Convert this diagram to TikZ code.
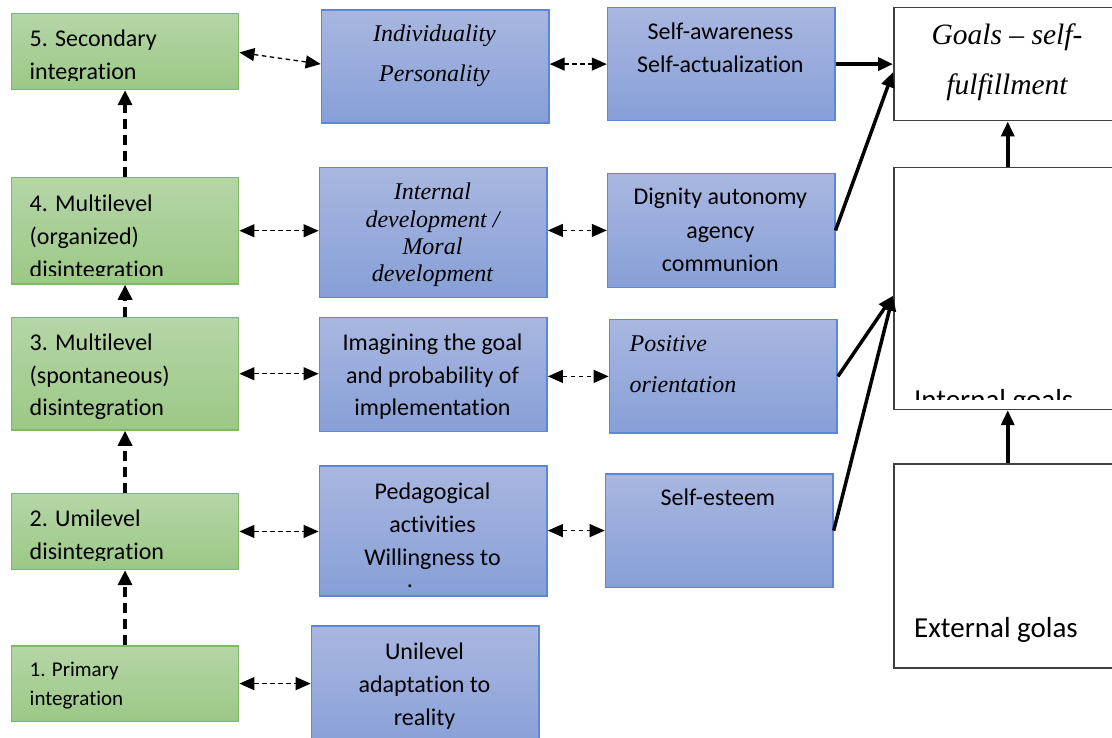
\documentclass[tikz,border=0pt]{standalone}
\usepackage{fontspec}
\setmainfont{Carlito}[Ligatures={NoCommon}]
\newfontfamily\serifit{Liberation Serif}
\usetikzlibrary{arrows.meta}
\definecolor{gtop}{HTML}{B5D6A7}
\definecolor{gbot}{HTML}{9CC886}
\definecolor{gline}{HTML}{80B862}
\definecolor{btop}{HTML}{A9B7E0}
\definecolor{bbot}{HTML}{879FD7}
\definecolor{bline}{HTML}{5C86D8}
\definecolor{rline}{HTML}{404040}
\newcommand\mkbox[6]{\node[#2, minimum width={#5-#3}, minimum height={#6-#4}] (#1) at (#3,#4) {};}
\begin{document}
\begin{tikzpicture}[x=1pt,y=-1pt,
  gbox/.style={draw=gline, line width=1.5pt, top color=gtop, bottom color=gbot, inner sep=0pt, anchor=north west},
  bbox/.style={draw=bline, line width=1.5pt, top color=btop, bottom color=bbot, inner sep=0pt, anchor=north west},
  rbox/.style={draw=rline, line width=1.5pt, fill=white, inner sep=0pt, anchor=north west},
  sans/.style={inner sep=0pt, font=\fontsize{24}{33}\selectfont},
  ltxt/.style={sans, text width=200pt, align=flush left, anchor=base west},
  ctxt/.style={sans, text width=226pt, align=flush center, anchor=base},
  itxt/.style={inner sep=0pt, text width=226pt, align=flush center, anchor=base, font=\serifit\itshape\fontsize{24}{27.2}\selectfont},
  vdash/.style={line width=3.5pt, dash pattern=on 10pt off 6pt, -{Triangle[length=15pt,width=14pt]}},
  hdash/.style={line width=1.3pt, dash pattern=on 4.5pt off 3.5pt, {Triangle[length=15pt,width=13pt]}-{Triangle[length=15pt,width=13pt]}},
  sarrow/.style={line width=3.5pt, -{Triangle[length=15pt,width=13pt]}}
]
\clip (0,0) rectangle (1112,738);
% green column
\mkbox{g5}{gbox}{10.7}{12.7}{237.9}{88.7}
\mkbox{g4}{gbox}{10.7}{176.7}{237.9}{283.3}
\mkbox{g3}{gbox}{10.7}{316.7}{237.9}{429.3}
\mkbox{g2}{gbox}{10.7}{492.7}{237.9}{568.7}
\mkbox{g1}{gbox}{10.7}{645}{237.9}{720.7}
% blue middle column
\mkbox{b5}{bbox}{320.7}{9.3}{548.2}{122.3}
\mkbox{b4}{bbox}{318.6}{166.7}{546.4}{296.7}
\mkbox{b3}{bbox}{318.6}{316.7}{546.4}{430.7}
\mkbox{b2}{bbox}{318.6}{465}{546.4}{595}
\mkbox{b1}{bbox}{310.7}{625}{538.2}{750}
% blue right column
\mkbox{c5}{bbox}{606.8}{6.7}{834}{120}
\mkbox{c4}{bbox}{606.8}{172.7}{834}{286.7}
\mkbox{c3}{bbox}{608.6}{319}{836.4}{432.3}
\mkbox{c2}{bbox}{604.7}{473}{832.2}{586.7}
% white boxes
\mkbox{r1}{rbox}{893}{6.7}{1121}{120}
\mkbox{r2}{rbox}{893}{166.7}{1121}{408.7}
\mkbox{r3}{rbox}{893}{463}{1121}{667.3}

% texts
\begin{scope}
\clip (g5.north west) rectangle ([yshift=9.5pt]g5.south east);
\node[ltxt] (tg5) at (29.5,46.7) {5. Secondary\\integration};
\end{scope}
\begin{scope}
\clip (g4.north west) rectangle ([yshift=9.5pt]g4.south east);
\node[ltxt] (tg4) at (29.5,211.5) {4. Multilevel\\(organized)\\disintegration};
\end{scope}
\begin{scope}
\clip (g3.north west) rectangle ([yshift=9.5pt]g3.south east);
\node[ltxt] (tg3) at (29.5,350) {3. Multilevel\\(spontaneous)\\disintegration};
\end{scope}
\begin{scope}
\clip (g2.north west) rectangle ([yshift=9.5pt]g2.south east);
\node[ltxt] (tg2) at (29.5,526.5) {2. Umilevel\\disintegration};
\end{scope}
\node[ltxt, font=\fontsize{21}{28.5}\selectfont] (tg1) at (29.5,676.7) {1. Primary\\integration};

\node[itxt, font=\serifit\itshape\fontsize{24}{40}\selectfont] (tb5) at (434.5,41.7) {Individuality\\Personality};
\node[itxt] (tb4) at (432.5,200) {Internal\\development /\\Moral\\development};
\node[ctxt] (tb3) at (432.5,350) {Imagining the goal\\and probability of\\implementation};
\node[ctxt] (tb2) at (432.5,499) {Pedagogical\\activities\\Willingness to};
\node[sans, anchor=base] (tb2dot) at (410,587.5) {.};
\node[ctxt] (tb1) at (424.5,659) {Unilevel\\adaptation to\\reality};

\node[ctxt] (tc5) at (720.4,40) {Self-awareness\\Self-actualization};
\node[ctxt, font=\fontsize{24}{33.5}\selectfont] (tc4) at (720.4,205) {Dignity autonomy\\agency\\communion};
\node[itxt, align=flush left, anchor=base west, text width=200pt, font=\serifit\itshape\fontsize{24}{41}\selectfont] (tc3) at (629.4,351.7) {Positive\\orientation};
\node[ctxt] (tc2) at (717.9,505) {Self-esteem};

\node[itxt, font=\serifit\itshape\fontsize{29.5}{50.7}\selectfont] (tr1) at (1007,44.3) {Goals – self-\\fulfillment};
\begin{scope}
\clip (r2.north west) rectangle ([yshift=10.4pt]r2.south east);
\node[ltxt, font=\fontsize{29}{35}\selectfont] (tr2) at (913.9,409) {Internal goals};
\end{scope}
\node[ltxt, font=\fontsize{29}{35}\selectfont] (tr3) at (913.9,637.3) {External golas};

% vertical dashed arrows
\draw[vdash] (g4.north) -- (g5.south);
\draw[vdash] (g3.north) -- (g4.south);
\draw[vdash] (g2.north) -- (g3.south);
\draw[vdash] (g1.north) -- (g2.south);

% horizontal dashed double arrows
\draw[hdash] ([yshift=-1pt]g5.east) -- ([yshift=2.5pt]b5.west);
\draw[hdash] (g4.east) -- (g4.east -| b4.west);
\draw[hdash] (g3.east) -- (g3.east -| b3.west);
\draw[hdash] (g2.east) -- (g2.east -| b2.west);
\draw[hdash] (g1.east) -- (g1.east -| b1.west);
\draw[hdash] (c5.west -| b5.east) -- (c5.west);
\draw[hdash] (c4.west -| b4.east) -- (c4.west);
\draw[hdash] (c3.west -| b3.east) -- (c3.west);
\draw[hdash] (c2.west -| b2.east) -- (c2.west);

% solid arrows
\draw[sarrow] (c5.east) -- (c5.east -| r1.west);
\draw[sarrow] (c4.east) -- ([yshift=-8pt]r1.west);
\draw[sarrow] (c3.east) -- ([yshift=-7.3pt]r2.west);
\draw[sarrow] (c2.east) -- ([yshift=-7.3pt]r2.west);
\draw[sarrow] (r2.north) -- (r1.south);
\draw[sarrow] (r3.north) -- (r2.south);
\end{tikzpicture}
\end{document}
